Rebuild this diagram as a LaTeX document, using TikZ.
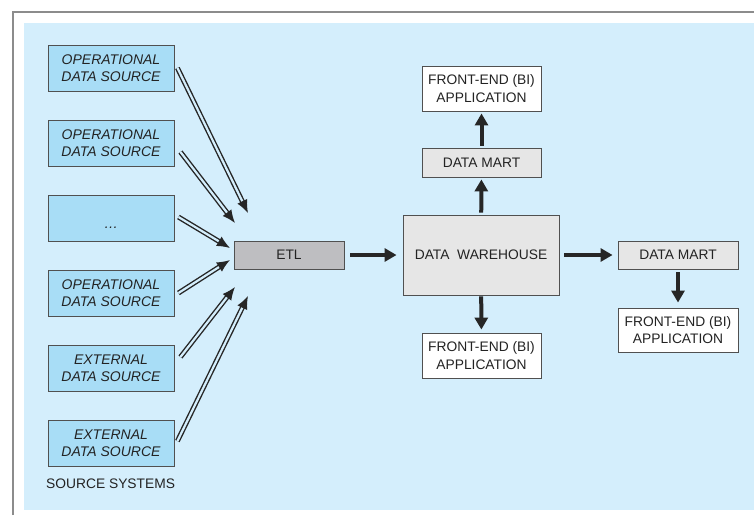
\documentclass[tikz,border=0pt]{standalone}
\usepackage{fontspec}
\setmainfont{Liberation Sans}
\usetikzlibrary{arrows.meta,calc}

\definecolor{panelblue}{RGB}{212,238,252}
\definecolor{srcblue}{RGB}{168,221,246}
\definecolor{etlgray}{RGB}{190,190,193}
\definecolor{boxgray}{RGB}{230,230,230}
\definecolor{edgegray}{RGB}{80,80,80}
\definecolor{textgray}{RGB}{35,35,35}
\definecolor{framegray}{RGB}{140,140,140}

\tikzset{
  box/.style={draw=edgegray, line width=0.9pt, inner sep=0pt, align=center,
    text=textgray, font=\fontsize{13.8}{17.5}\selectfont},
  srcbox/.style={box, fill=srcblue, minimum width=126pt, minimum height=46pt,
    font=\fontsize{14}{17.5}\selectfont\itshape},
  feed/.style={double=panelblue, double distance=2.2pt, line width=1.4pt,
    draw=black!85, -{Latex[length=13pt,width=11pt]}},
  flow/.style={draw=black!85, line width=4pt, -{Triangle[length=12pt,width=13pt]}},
}

\begin{document}
\begin{tikzpicture}[x=1pt,y=-1pt]
  \useasboundingbox (0,0) rectangle (754,515);

  % frame and panel
  \fill[panelblue] (24,23) rectangle (754,510);
  \draw[framegray, line width=1.1pt] (13,515) -- (13,12) -- (754,12);

  % source systems
  \node[srcbox] (s1) at (111,68)  {OPERATIONAL\\DATA SOURCE};
  \node[srcbox] (s2) at (111,143) {OPERATIONAL\\DATA SOURCE};
  \node[srcbox] (s3) at (111,218) {\raisebox{-10pt}[0pt][0pt]{\ldots}};
  \node[srcbox] (s4) at (111,293) {OPERATIONAL\\DATA SOURCE};
  \node[srcbox] (s5) at (111,368) {EXTERNAL\\DATA SOURCE};
  \node[srcbox] (s6) at (111,443) {EXTERNAL\\DATA SOURCE};
  \node[text=textgray, font=\fontsize{13.8}{15}\selectfont, anchor=west, inner sep=0pt] (srclabel) at (46,484) {SOURCE SYSTEMS};

  % ETL, warehouse, marts and applications
  \node[box, fill=etlgray, minimum width=110pt, minimum height=28pt] (etl) at (289,255) {ETL};
  \node[box, fill=boxgray, minimum width=156pt, minimum height=80pt] (dw) at (481,255) {DATA\ \ WAREHOUSE};
  \node[box, fill=boxgray, minimum width=119pt, minimum height=29pt] (dmtop) at (481.5,162.5) {DATA MART};
  \node[box, fill=white, minimum width=119pt, minimum height=45pt] (fetop) at (481.5,88.5) {FRONT-END (BI)\\APPLICATION};
  \node[box, fill=white, minimum width=119pt, minimum height=45pt] (febot) at (481.5,355.5) {FRONT-END (BI)\\APPLICATION};
  \node[box, fill=boxgray, minimum width=120pt, minimum height=28pt] (dmright) at (678,255) {DATA MART};
  \node[box, fill=white, minimum width=120pt, minimum height=44pt] (feright) at (678,330) {FRONT-END (BI)\\APPLICATION};

  % end points of the feeds around ETL
  \coordinate (e1) at (248,213);
  \coordinate (e2) at (235,223);
  \coordinate (e3) at (230,248);
  \coordinate (e4) at (230,260);
  \coordinate (e5) at (235,287);
  \coordinate (e6) at (248,296);

  % extraction feeds
  \draw[feed] ($(s1.east)+(3,0)$) -- (e1);
  \draw[feed] ($(s2.east)+(6,9)$) -- (e2);
  \draw[feed] ($(s3.east)+(4,-1)$) -- (e3);
  \draw[feed] ($(s4.east)+(4,0)$) -- (e4);
  \draw[feed] ($(s5.east)+(6,-11)$) -- (e5);
  \draw[feed] ($(s6.east)+(3,-2)$) -- (e6);

  % data flow
  \draw[flow, shorten <=6pt, shorten >=6pt] (etl) -- (dw);
  \draw[flow, shorten <=2pt, shorten >=2pt] (dw) -- (dmtop);
  \draw[flow, shorten <=2pt, shorten >=2pt] (dmtop) -- (fetop);
  \draw[flow, shorten <=1pt, shorten >=3pt] (dw) -- (febot);
  \draw[flow, shorten <=5pt, shorten >=5pt] (dw) -- (dmright);
  \draw[flow, shorten <=3pt, shorten >=5pt] (dmright) -- (feright);
\end{tikzpicture}
\end{document}
